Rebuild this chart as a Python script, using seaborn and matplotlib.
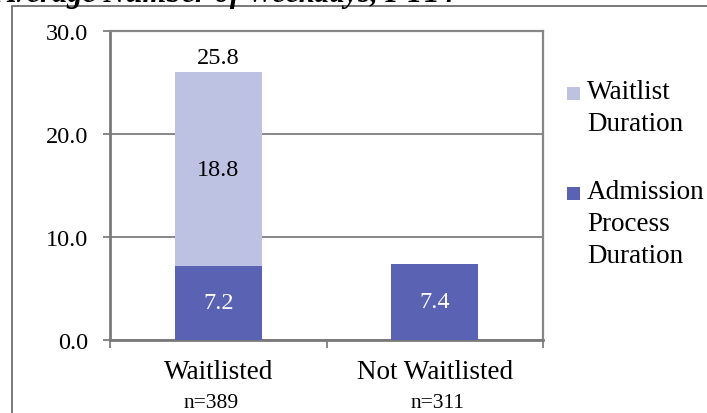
import matplotlib
matplotlib.use("Agg")
import matplotlib.pyplot as plt
import matplotlib.patches as mpatches
from matplotlib.ticker import FixedLocator
import seaborn as sns
import pandas as pd

categories = ["Waitlisted", "Not Waitlisted"]
sample_sizes = ["n=389", "n=311"]
admission = [7.2, 7.4]
waitlist = [18.8, 0.0]
total_labels = ["25.8", None]
series_names = ["Waitlist\nDuration", "Admission\nProcess\nDuration"]
title = "Average Number of Weekdays, FY14"

DARK = "#5A62B4"
LIGHT = "#BDC2E2"
GRID = "#878787"
SERIF = ["Liberation Serif", "DejaVu Serif"]

sns.set_theme(style="white")
plt.rcParams["font.family"] = SERIF

df = pd.DataFrame({
    "category": categories,
    "admission": admission,
    "stacked": [a + w for a, w in zip(admission, waitlist)],
})

fig = plt.figure(figsize=(7.07, 4.14), dpi=100)
ax = fig.add_axes([110 / 707, 1 - 341 / 414, 433 / 707, 309 / 414])

sns.barplot(data=df, x="category", y="stacked", color=LIGHT, saturation=1,
            width=0.4, ax=ax, zorder=2, edgecolor="none")
sns.barplot(data=df, x="category", y="admission", color=DARK, saturation=1,
            width=0.4, ax=ax, zorder=3, edgecolor="none")

ax.set_xlim(-0.5, 1.5)
ax.set_ylim(0, 30)
ax.set_yticks([0, 10, 20, 30])
ax.set_yticklabels([f"{v:.1f}" for v in [0, 10, 20, 30]], fontsize=17.5)
ax.set_xlabel("")
ax.set_ylabel("")

ax.yaxis.grid(True, color=GRID, linewidth=1.4, zorder=0)
ax.set_axisbelow(True)
for side in ["left", "bottom", "right", "top"]:
    ax.spines[side].set_visible(True)
    ax.spines[side].set_color(GRID)
    ax.spines[side].set_linewidth(1.6)
ax.spines["left"].set_color("#7a7a7a")
ax.spines["bottom"].set_color("#7a7a7a")
ax.spines["left"].set_linewidth(2)
ax.spines["bottom"].set_linewidth(2)

ax.tick_params(axis="y", direction="out", length=5, width=1.4, color=GRID,
               pad=11, labelsize=17.5, left=True)
ax.xaxis.set_minor_locator(FixedLocator([-0.5, 0.5, 1.5]))
ax.tick_params(axis="x", which="minor", direction="out", length=6, width=1.4,
               color=GRID, bottom=True)
ax.tick_params(axis="x", which="major", length=0, pad=14, labelsize=19.5)
for lbl in ax.get_xticklabels():
    lbl.set_color("black")
for lbl in ax.get_yticklabels():
    lbl.set_color("black")

# n= labels
for i, n in enumerate(sample_sizes):
    ax.annotate(n, xy=(i, 0), xycoords=("data", "axes fraction"),
                xytext=(-5 if i == 0 else 2, -38), textcoords="offset points",
                ha="center", va="top", fontsize=15.5, color="black",
                annotation_clip=False)

# value labels
for i in range(len(categories)):
    a = admission[i]
    w = waitlist[i]
    ax.text(i, a / 2, f"{a:.1f}", ha="center", va="center", color="white",
            fontsize=17.5, zorder=5)
    if w > 0:
        ax.text(i, a + w / 2, f"{w:.1f}", ha="center", va="center",
                color="black", fontsize=17.5, zorder=5)
    if total_labels[i]:
        ax.annotate(total_labels[i], xy=(i, a + w), xytext=(0, 3),
                    textcoords="offset points", ha="center", va="bottom",
                    fontsize=17.5, color="black")

# legend (manual, handle aligned with first line)
leg_items = [(series_names[0], LIGHT, 88), (series_names[1], DARK, 188)]
for text, col, ytop in leg_items:
    fig.patches.append(mpatches.Rectangle(
        (567 / 707, 1 - (ytop + 13) / 414), 13 / 707, 13 / 414,
        transform=fig.transFigure, facecolor=col, edgecolor="none"))
    fig.text(587 / 707, 1 - (ytop - 8) / 414, text, ha="left", va="top",
             fontsize=19.5, linespacing=1.36, color="black")

# outer chart border
fig.patches.append(mpatches.Rectangle(
    (12 / 707, -0.1), 1.2, 1.1 - 7 / 414, transform=fig.transFigure,
    facecolor="none", edgecolor="#6e6e6e", linewidth=1.3))

# title (partly cut off at top, as in the reference)
fig.text(-4 / 707, 1 - 2 / 414, title, ha="left", va="baseline",
         fontsize=22, fontweight="bold", fontstyle="italic", color="black")

fig.savefig("out.png", dpi=100)
